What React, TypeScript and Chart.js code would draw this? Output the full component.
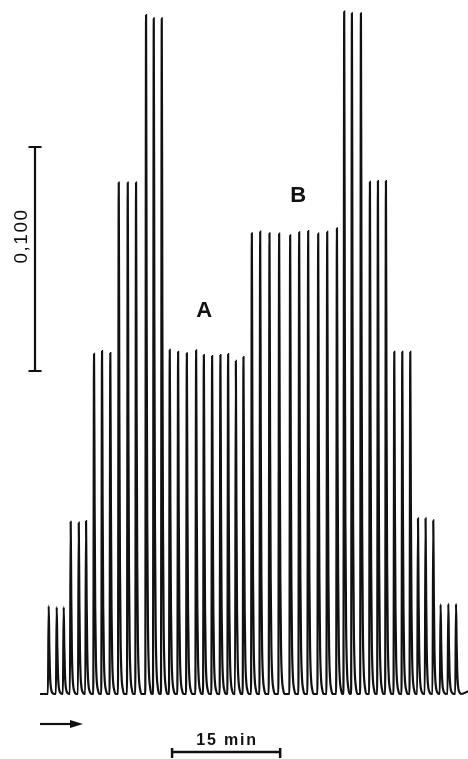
import { useEffect, useRef } from "react";
import { Chart, registerables } from "chart.js";

Chart.register(...registerables);

// Peak apex times (minutes from start of the record)
const PEAK_TIMES_MIN = [
  1.21, 2.32, 3.29,
  4.26, 5.38, 6.39,
  7.5, 8.61, 9.76,
  10.93, 12.18, 13.33,
  14.72, 15.79, 16.9,
  18.01, 19.17, 20.38, 21.67, 22.74, 23.89, 25.04, 26.11, 27.18, 28.24,
  29.4, 30.56, 31.85, 33.19, 34.72, 35.97, 37.22, 38.61, 39.86, 41.21,
  42.22, 43.29, 44.54,
  45.79, 46.9, 48.01,
  49.17, 50.28, 51.39,
  52.46, 53.51, 54.58,
  55.6, 56.67, 57.74,
];

// Peak heights (absorbance units above baseline)
const PEAK_HEIGHTS_AU = [
  0.0393, 0.0388, 0.0388,
  0.0769, 0.0765, 0.0772,
  0.1518, 0.1531, 0.1522,
  0.2283, 0.2283, 0.2283,
  0.3031, 0.3016, 0.3016,
  0.1536, 0.1528, 0.1521, 0.1534, 0.1513, 0.1509, 0.1513, 0.1517, 0.1487, 0.1504,
  0.2057, 0.2064, 0.2057, 0.2055, 0.2048, 0.2061, 0.2067, 0.2055, 0.2063, 0.2079,
  0.3046, 0.3039, 0.3039,
  0.2286, 0.229, 0.229,
  0.1528, 0.1528, 0.1527,
  0.0784, 0.0784, 0.0775,
  0.04, 0.0403, 0.0403,
];

const RECORD_END_MIN = 59.4;
const SCALE_BAR_AU = 0.1;
const SCALE_BAR_LABEL = "0,100";
const TIME_BAR_MIN = 15;
const TIME_BAR_LABEL = "15 min";
const REGION_LABELS = ["A", "B"];

// Peak shape template: [offset in minutes, fraction of peak height]
const PX_PER_MIN = 7.2;
const PEAK_SHAPE = [
  [-0.8, 0],
  [0, 1],
  [0.6, 0.55],
  [1.2, 0.25],
  [1.9, 0.1],
  [2.8, 0.035],
  [4.0, 0.01],
  [5.5, 0],
].map(([dx, f]) => [dx / PX_PER_MIN, f]);

function buildTrace() {
  const pts: { x: number; y: number }[] = [{ x: 0, y: 0 }];
  PEAK_TIMES_MIN.forEach((t, i) => {
    const h = PEAK_HEIGHTS_AU[i];
    PEAK_SHAPE.forEach(([dx, f]) => pts.push({ x: t + dx, y: h * f }));
  });
  pts.push({ x: RECORD_END_MIN, y: 0.0012 });
  return pts;
}

const annotationPlugin = {
  id: "recorderAnnotations",
  afterDraw(chart: any) {
    const { ctx, scales } = chart;
    const xs = scales.x;
    const ys = scales.y;
    ctx.save();
    ctx.strokeStyle = "#111";
    ctx.fillStyle = "#111";
    ctx.lineCap = "butt";

    // vertical absorbance scale bar
    const vbX = 35;
    const vbBottom = ys.getPixelForValue(0.1442);
    const vbTop = ys.getPixelForValue(0.1442 + SCALE_BAR_AU);
    ctx.lineWidth = 2.2;
    ctx.beginPath();
    ctx.moveTo(vbX, vbTop);
    ctx.lineTo(vbX, vbBottom);
    ctx.moveTo(vbX - 6.5, vbTop);
    ctx.lineTo(vbX + 6.5, vbTop);
    ctx.moveTo(vbX - 6.5, vbBottom);
    ctx.lineTo(vbX + 6.5, vbBottom);
    ctx.stroke();

    ctx.save();
    ctx.translate(22, 236);
    ctx.rotate(-Math.PI / 2);
    ctx.font = "19px 'Liberation Sans', Arial, sans-serif";
    (ctx as any).letterSpacing = "1.5px";
    ctx.textAlign = "center";
    ctx.textBaseline = "middle";
    ctx.fillText(SCALE_BAR_LABEL, 0, 0);
    ctx.restore();

    // horizontal time scale bar
    const tbStart = 18.33;
    const hx1 = xs.getPixelForValue(tbStart);
    const hx2 = xs.getPixelForValue(tbStart + TIME_BAR_MIN);
    const hy = 752;
    ctx.lineWidth = 2.5;
    ctx.beginPath();
    ctx.moveTo(hx1, hy);
    ctx.lineTo(hx2, hy);
    ctx.moveTo(hx1, hy - 4);
    ctx.lineTo(hx1, hy + 6);
    ctx.moveTo(hx2, hy - 4);
    ctx.lineTo(hx2, hy + 6);
    ctx.stroke();

    ctx.font = "bold 16px 'Liberation Sans', Arial, sans-serif";
    (ctx as any).letterSpacing = "1.8px";
    ctx.textAlign = "center";
    ctx.textBaseline = "alphabetic";
    ctx.fillText(TIME_BAR_LABEL, (hx1 + hx2) / 2 + 1, 745);

    // direction arrow
    (ctx as any).letterSpacing = "0px";
    ctx.lineWidth = 2.2;
    ctx.beginPath();
    ctx.moveTo(40, 724);
    ctx.lineTo(72, 724);
    ctx.stroke();
    ctx.beginPath();
    ctx.moveTo(83, 724);
    ctx.lineTo(70, 720);
    ctx.lineTo(70, 728);
    ctx.closePath();
    ctx.fill();

    // region labels
    ctx.font = "bold 22px 'Liberation Sans', Arial, sans-serif";
    ctx.textAlign = "center";
    ctx.textBaseline = "middle";
    ctx.fillText(REGION_LABELS[0], xs.getPixelForValue(22.78), ys.getPixelForValue(0.1714) + 1);
    ctx.fillText(REGION_LABELS[1], xs.getPixelForValue(35.83), ys.getPixelForValue(0.223) + 1);

    ctx.restore();
  },
};

export default function App() {
  const ref = useRef<HTMLCanvasElement | null>(null);

  useEffect(() => {
    document.body.style.margin = "0";
    document.body.style.background = "#fff";
    const canvas = ref.current;
    if (!canvas) return;
    const chart = new Chart(canvas, {
      type: "line",
      data: {
        datasets: [
          {
            data: buildTrace(),
            borderColor: "#111",
            borderWidth: 2.2,
            pointRadius: 0,
            fill: false,
            cubicInterpolationMode: "monotone",
          },
        ],
      },
      options: {
        animation: false,
        responsive: false,
        devicePixelRatio: 1,
        parsing: false,
        layout: { padding: { left: 40, right: 0, top: 0, bottom: 0 } },
        plugins: {
          legend: { display: false },
          tooltip: { enabled: false },
          title: { display: false },
        },
        scales: {
          x: {
            type: "linear",
            display: false,
            min: 0,
            max: RECORD_END_MIN,
          },
          y: {
            type: "linear",
            display: false,
            min: -(759 - 694) / 2240,
            max: 694 / 2240,
          },
        },
      },
      plugins: [annotationPlugin],
    } as any);
    return () => chart.destroy();
  }, []);

  return (
    <canvas
      ref={ref}
      width={468}
      height={759}
      style={{ display: "block", width: 468, height: 759, background: "#fff" }}
    />
  );
}
